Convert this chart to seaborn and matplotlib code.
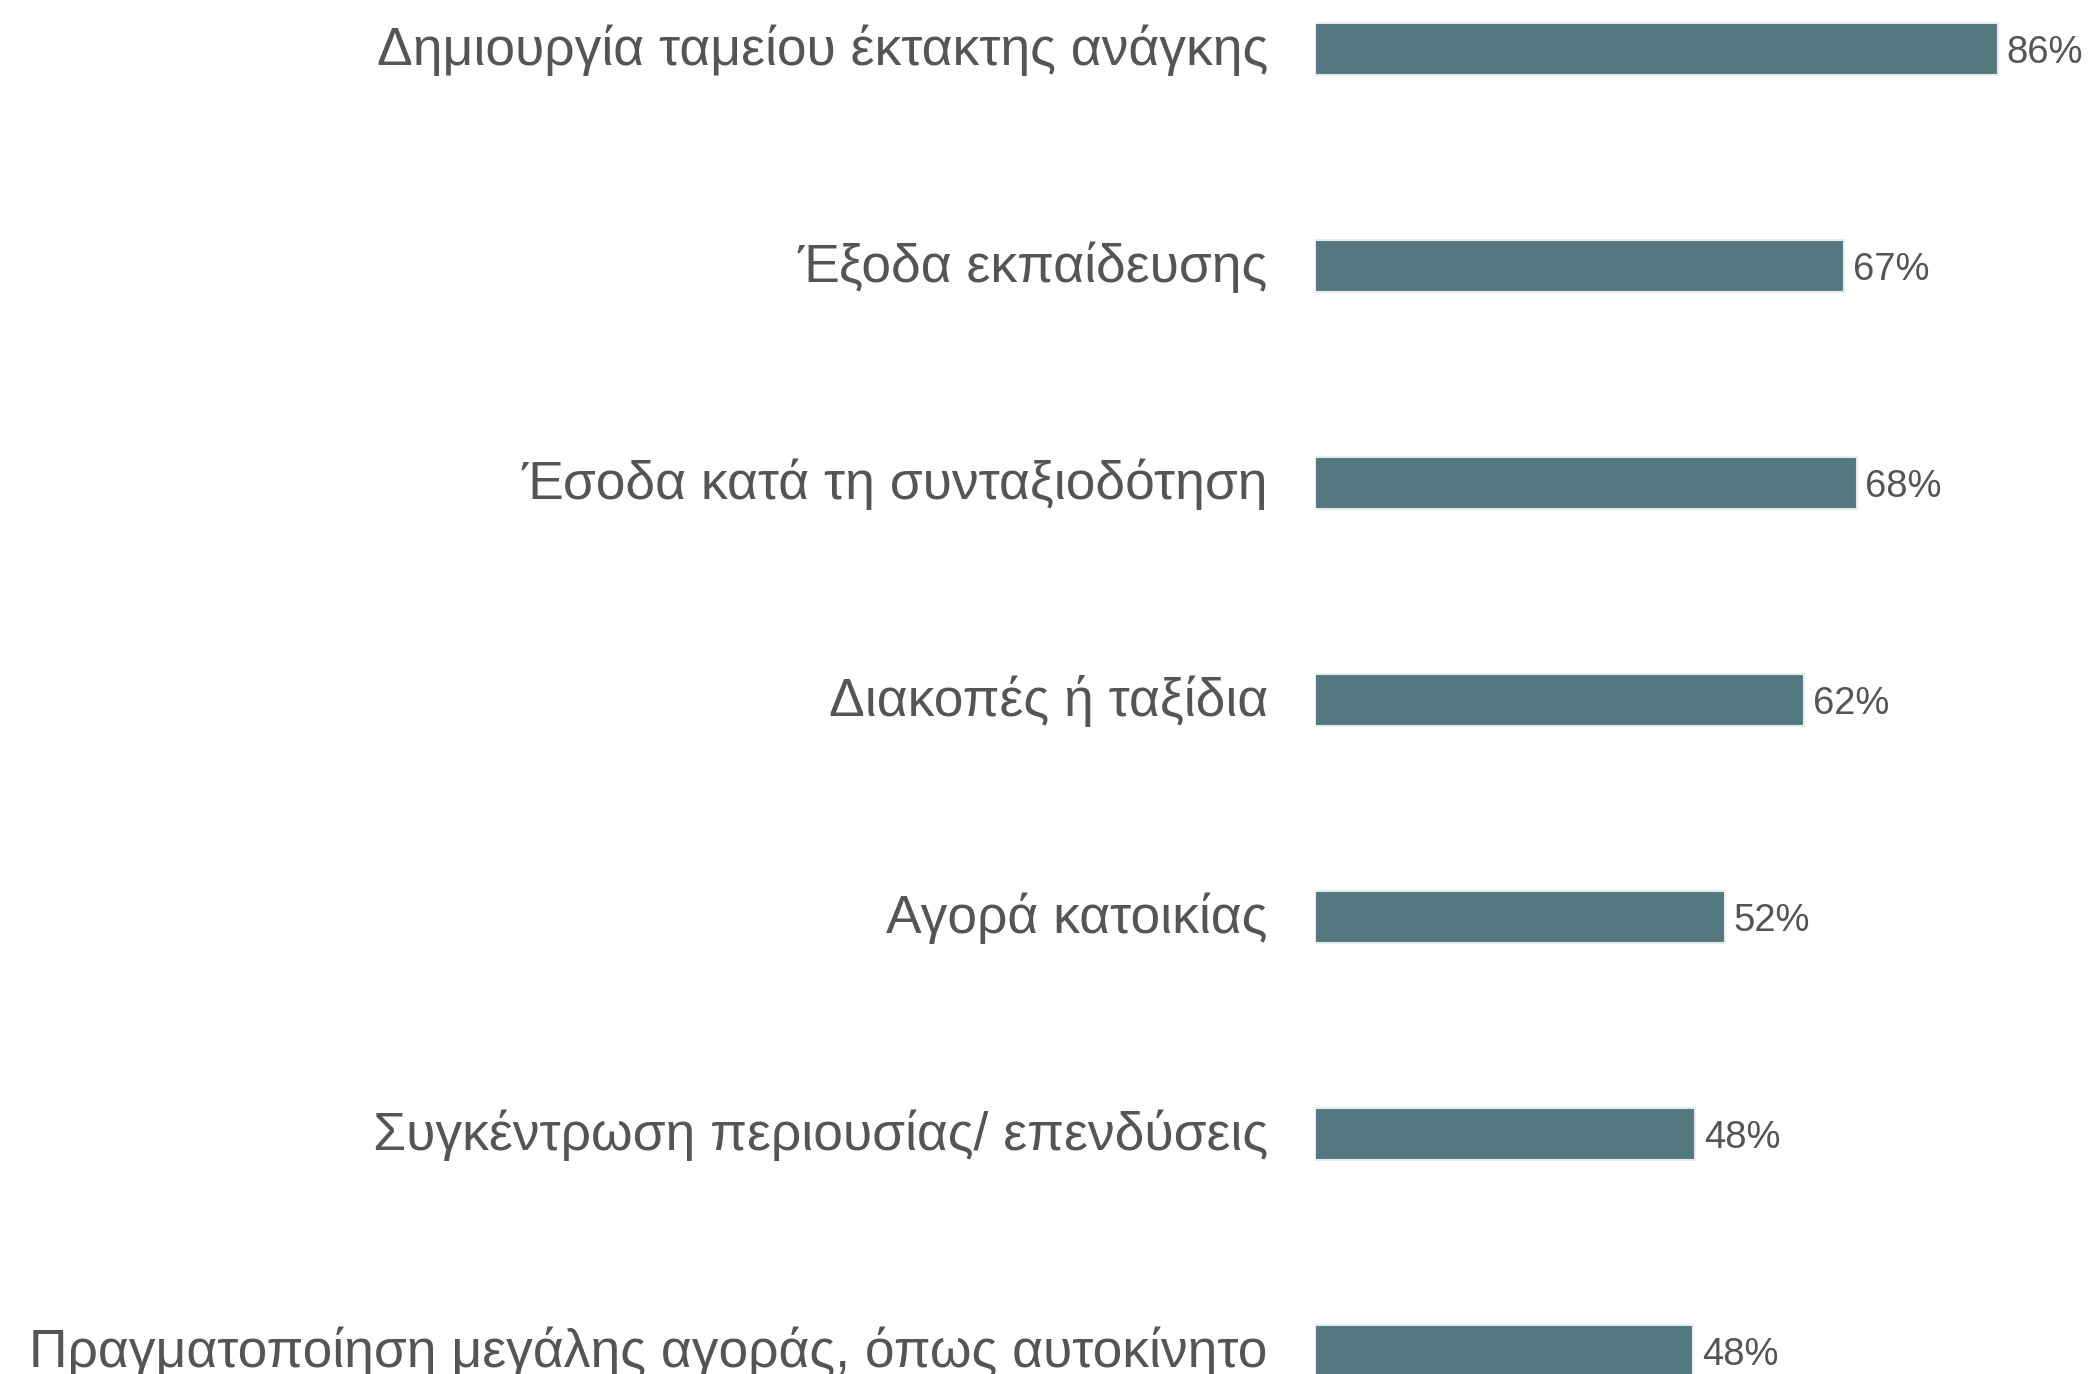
import matplotlib
matplotlib.use("Agg")
import matplotlib.pyplot as plt
import matplotlib.transforms as mtransforms
import seaborn as sns
import pandas as pd

categories = [
    "Δημιουργία ταμείου έκτακτης ανάγκης",
    "Έξοδα εκπαίδευσης",
    "Έσοδα κατά τη συνταξιοδότηση",
    "Διακοπές ή ταξίδια",
    "Αγορά κατοικίας",
    "Συγκέντρωση περιουσίας/ επενδύσεις",
    "Πραγματοποίηση μεγάλης αγοράς, όπως αυτοκίνητο",
]
values = [86, 66.6, 68.2, 61.6, 51.6, 47.9, 47.6]

df = pd.DataFrame({"category": categories, "value": values})

sns.set_theme(style="white")
plt.rcParams["font.family"] = ["Liberation Sans", "DejaVu Sans"]

text_color = "#555555"
bar_color = "#537880"

W, H = 2089, 1374
fig = plt.figure(figsize=(W / 100, H / 100), dpi=100)
# axes starts where the bars start
ax = fig.add_axes([1315 / W, 0, 1 - 1315 / W, 1])

sns.barplot(data=df, x="value", y="category", orient="h", color=bar_color,
            width=0.24, edgecolor="#e6ecee", linewidth=1.5, saturation=1, ax=ax)

ax.set_xlim(0, 774 / 7.94)
ax.set_ylim(6 + 23 / 217, -49 / 217)

for i, v in enumerate(values):
    ax.text(v + 1.1, i + 0.018, f"{v:.0f}%", va="center", ha="left",
            fontsize=27.5, color=text_color)

ax.set_xlabel("")
ax.set_ylabel("")
ax.set_xticks([])
ax.tick_params(axis="y", length=0, pad=34, labelsize=38.4, labelcolor=text_color)
# nudge the category labels up a little
shift = mtransforms.ScaledTranslation(0, 3 / 72, fig.dpi_scale_trans)
for lab in ax.get_yticklabels():
    lab.set_transform(lab.get_transform() + shift)
for s in ax.spines.values():
    s.set_visible(False)

fig.savefig("out.png", dpi=100)
